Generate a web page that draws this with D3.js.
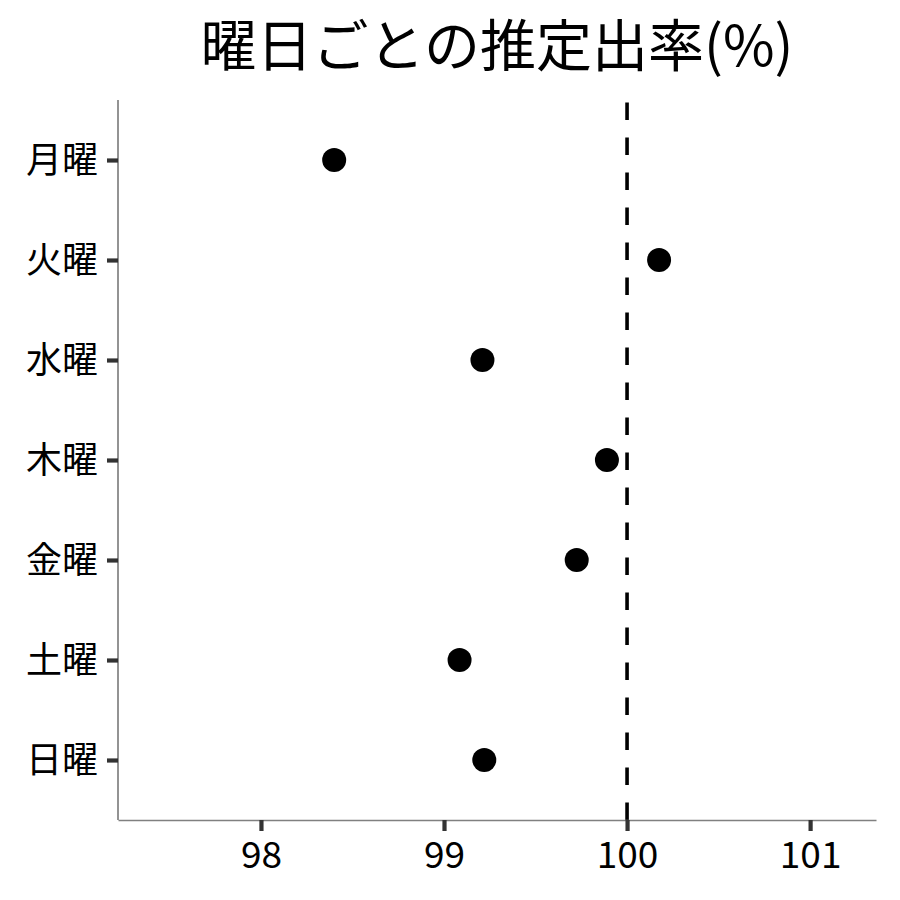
<!DOCTYPE html>
<html>
<head>
<meta charset="utf-8">
<script src="https://cdn.jsdelivr.net/npm/d3@7"></script>
<style>
  body { margin: 0; background: #fff; }
  svg text { font-family: "Noto Sans CJK JP", "Noto Sans", sans-serif; }
</style>
</head>
<body>
<div id="chart"></div>
<script>
// data
const days   = ["月曜", "火曜", "水曜", "木曜", "金曜", "土曜", "日曜"];
const rates  = [98.40, 100.175, 99.21, 99.89, 99.725, 99.085, 99.22];
const xTicks = [98, 99, 100, 101];
const refLine = 100;
const title  = "曜日ごとの推定出率(%)";

const width = 900, height = 900;
const margin = {top: 100, right: 24, bottom: 80, left: 118};

const svg = d3.select("#chart").append("svg")
    .attr("width", width)
    .attr("height", height);

const x = d3.scaleLinear()
    .domain([97.219, 101.36])
    .range([margin.left, width - margin.right]);

const y = d3.scalePoint()
    .domain(days)
    .range([160, 760]);

const panelBottom = height - margin.bottom;

// reference line (dash pattern starts at the bottom)
svg.append("line")
    .attr("x1", x(refLine)).attr("x2", x(refLine))
    .attr("y1", panelBottom).attr("y2", margin.top)
    .attr("stroke", "#000")
    .attr("stroke-width", 3.6)
    .attr("stroke-dasharray", "17.5,17.5");

// points
svg.selectAll(".dot")
    .data(days)
    .enter()
    .append("circle")
    .attr("class", "dot")
    .attr("cx", (d, i) => x(rates[i]))
    .attr("cy", d => y(d))
    .attr("r", 12)
    .attr("fill", "#000");

// x axis
const xAxis = svg.append("g")
    .attr("transform", `translate(0,${panelBottom})`)
    .call(d3.axisBottom(x).tickValues(xTicks).tickFormat(d3.format("d"))
        .tickSize(11).tickPadding(10).tickSizeOuter(0));
xAxis.select(".domain").attr("stroke", "#808080").attr("stroke-width", 1.7);
xAxis.selectAll(".tick line").attr("stroke", "#333").attr("stroke-width", 4.2);
xAxis.selectAll(".tick text")
    .attr("fill", "#000")
    .attr("font-size", 37)
    .attr("dy", "0.72em");

// y axis
const yAxis = svg.append("g")
    .attr("transform", `translate(${margin.left},0)`)
    .call(d3.axisLeft(y).tickSize(11).tickPadding(9).tickSizeOuter(0));
yAxis.select(".domain")
    .attr("d", `M0,${margin.top}V${panelBottom}`)
    .attr("stroke", "#808080").attr("stroke-width", 1.7);
yAxis.selectAll(".tick line").attr("stroke", "#333").attr("stroke-width", 4.2);
yAxis.selectAll(".tick text")
    .attr("fill", "#000")
    .attr("font-size", 36)
    .attr("dy", "0.35em");

// title
svg.append("text")
    .attr("x", (margin.left + width - margin.right) / 2)
    .attr("y", 66)
    .attr("text-anchor", "middle")
    .attr("font-size", 56)
    .attr("fill", "#000")
    .text(title);
</script>
</body>
</html>
